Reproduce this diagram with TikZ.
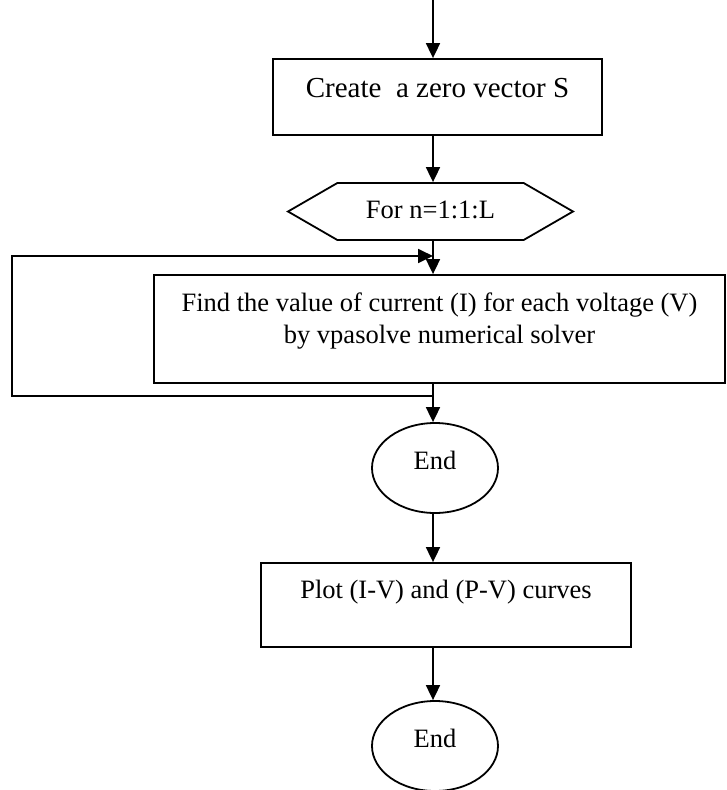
\documentclass[tikz,border=0pt]{standalone}
\usepackage{fontspec}
\setmainfont{Liberation Serif}
\usetikzlibrary{arrows.meta,shapes.geometric,shapes.symbols}

\begin{document}
\begin{tikzpicture}[x=1pt,y=-1pt,>={Triangle[length=15pt,width=14pt]},line width=1.8pt,
  font=\fontsize{26.5}{32}\selectfont,
  stepbox/.style={draw,rectangle,inner sep=0pt},
  endbox/.style={draw,ellipse,minimum width=126pt,minimum height=90pt,inner sep=0pt,text height=18pt,text depth=16pt}]
\useasboundingbox (0,0) rectangle (726,790);
\coordinate (top) at (433,0);
\node[stepbox,minimum width=329pt,minimum height=76pt,font=\fontsize{29}{34}\selectfont,
  text height=21pt,text depth=21pt] (zero) at (437.5,97) {Create\ \ a zero vector S};
\node[draw,signal,signal to=west and east,signal pointer angle=60,minimum width=285pt,
  minimum height=57pt,inner sep=0pt,text height=18pt,text depth=5pt] (loop) at (430.5,211.5) {For n=1:1:L};
\node[stepbox,minimum width=571pt,minimum height=108pt,text height=20pt,text depth=56pt]
  (find) at (439.5,329) {\begin{tabular}[t]{@{}c@{}}Find the value of current (I) for each voltage (V)\\
  by vpasolve numerical solver\end{tabular}};
\node[endbox] (end1) at (435,468) {End};
\node[stepbox,minimum width=370pt,minimum height=84pt,text height=20pt,text depth=34pt]
  (plot) at (446,605) {Plot (I-V) and (P-V) curves};
\node[endbox] (end2) at (435,746) {End};
% connectors
\draw[->] (top) -- (zero.north -| top);
\draw[->] (zero.south -| top) -- (loop.north -| top);
\draw[->] (loop.south -| top) -- (find.north -| top);
\draw[->] (find.south -| top) -- (end1.north -| top);
\draw[->] (end1.south -| top) -- (plot.north -| top);
\draw[->] (plot.south -| top) -- (end2.north -| top);
% loop back
\coordinate (tap) at (433,396);
\coordinate (back) at (433,256);
\draw[->] (tap) -| (12,256) -- (back);
\end{tikzpicture}
\end{document}
